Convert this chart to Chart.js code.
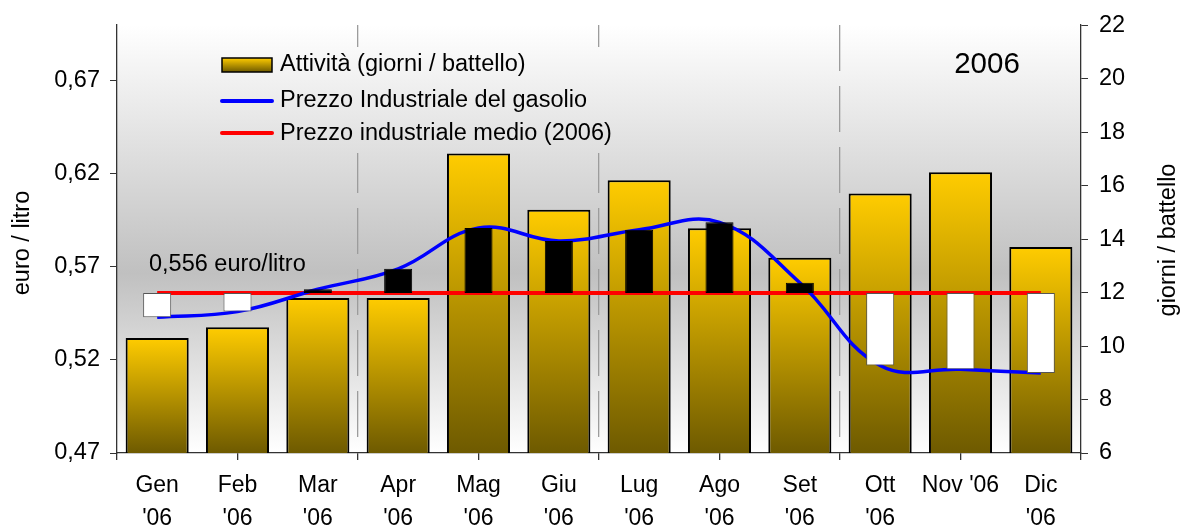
<!DOCTYPE html>
<html><head><meta charset="utf-8">
<script src="https://cdn.jsdelivr.net/npm/chart.js@4/dist/chart.umd.min.js"></script>
<style>html,body{margin:0;padding:0;background:#fff;}canvas{display:block;}</style>
</head><body>
<canvas id="c" width="1182" height="531"></canvas>
<script>
// ---- data ----
const months = [["Gen","'06"],["Feb","'06"],["Mar","'06"],["Apr","'06"],["Mag","'06"],["Giu","'06"],["Lug","'06"],["Ago","'06"],["Set","'06"],["Ott","'06"],["Nov '06"],["Dic","'06"]];
const attivita = [10.3, 10.7, 11.8, 11.8, 17.2, 15.1, 16.2, 14.4, 13.3, 15.7, 16.5, 13.7];
const prezzo = [0.543, 0.546, 0.558, 0.569, 0.591, 0.584, 0.590, 0.594, 0.5615, 0.517, 0.515, 0.513];
const prezzoMedio = 0.556;
const leftTicks = [0.47, 0.52, 0.57, 0.62, 0.67];
const rightTicks = [6, 8, 10, 12, 14, 16, 18, 20, 22];
const quarterMarks = [3, 6, 9];
const seriesLabels = ["Attività (giorni / battello)", "Prezzo Industriale del gasolio", "Prezzo industriale medio (2006)"];
const yearLabel = "2006";
const leftTitle = "euro / litro";
const rightTitle = "giorni / battello";

const FONT = "'Liberation Sans', Arial, sans-serif";
Chart.defaults.font.family = FONT;
Chart.defaults.font.size = 23.5;
Chart.defaults.color = '#000';

function bgGradient(ctx, a) {
  const g = ctx.createLinearGradient(0, a.top, 0, a.bottom);
  g.addColorStop(0, '#ffffff');
  g.addColorStop(0.58, '#c0c0c0');
  g.addColorStop(1, '#ffffff');
  return g;
}
function goldGradient(ctx, top, bottom) {
  const g = ctx.createLinearGradient(0, top, 0, bottom);
  g.addColorStop(0, '#FFCC00');
  g.addColorStop(1, '#6E5A00');
  return g;
}

const bgPlugin = {
  id: 'bg',
  beforeDraw(chart) {
    const {ctx, chartArea: a} = chart;
    ctx.save();
    ctx.fillStyle = bgGradient(ctx, a);
    ctx.fillRect(a.left, a.top, a.right - a.left, a.bottom - a.top);
    ctx.restore();
  }
};

const overlay = {
  id: 'overlay',
  afterDraw(chart) {
    const {ctx, chartArea: a, scales} = chart;
    ctx.save();
    // legend box (same fill as plot background, hides gridlines)
    ctx.fillStyle = bgGradient(ctx, a);
    ctx.fillRect(212, 47, 410, 106);
    ctx.fillStyle = goldGradient(ctx, 58, 72);
    ctx.fillRect(222, 58, 50, 14);
    ctx.lineWidth = 1.5; ctx.strokeStyle = '#000';
    ctx.strokeRect(222, 58, 50, 14);
    ctx.lineWidth = 4; ctx.lineCap = 'round';
    ctx.strokeStyle = '#0000FF';
    ctx.beginPath(); ctx.moveTo(222, 101); ctx.lineTo(272, 101); ctx.stroke();
    ctx.strokeStyle = '#FF0000';
    ctx.beginPath(); ctx.moveTo(222, 133); ctx.lineTo(272, 133); ctx.stroke();
    ctx.fillStyle = '#000';
    ctx.font = '23.5px ' + FONT;
    ctx.textAlign = 'left'; ctx.textBaseline = 'alphabetic';
    ctx.fillText(seriesLabels[0], 280, 71);
    ctx.fillText(seriesLabels[1], 280, 107);
    ctx.fillText(seriesLabels[2], 280, 140);
    ctx.font = '29.5px ' + FONT;
    ctx.textAlign = 'center';
    ctx.fillText(yearLabel, 987, 73);
    ctx.font = '23.5px ' + FONT;
    ctx.textAlign = 'left';
    const ym = scales.y.getPixelForValue(prezzoMedio);
    ctx.fillText(prezzoMedio.toFixed(3).replace('.', ',') + ' euro/litro', a.left + 32, ym - 22);
    ctx.textAlign = 'center';
    ctx.save(); ctx.translate(29, 243); ctx.rotate(-Math.PI / 2); ctx.fillText(leftTitle, 0, 0); ctx.restore();
    ctx.save(); ctx.translate(1175, 240); ctx.rotate(-Math.PI / 2); ctx.fillText(rightTitle, 0, 0); ctx.restore();
    ctx.restore();
  }
};

new Chart(document.getElementById('c'), {
  type: 'bar',
  data: {
    labels: months,
    datasets: [
      {
        type: 'bar', label: 'Scostamento', yAxisID: 'y', xAxisID: 'x', order: 0, grouped: false,
        data: prezzo.map(p => [prezzoMedio, p]),
        backgroundColor: prezzo.map(p => p >= prezzoMedio ? '#000000' : '#ffffff'),
        borderColor: prezzo.map(p => p >= prezzoMedio ? '#000000' : '#555555'),
        borderWidth: 1, borderSkipped: false,
        barPercentage: 0.349, categoryPercentage: 1
      },
      {
        type: 'line', label: seriesLabels[1], yAxisID: 'y', xAxisID: 'x', order: 1,
        data: prezzo, borderColor: '#0000FF', borderWidth: 3.5,
        pointRadius: 0, tension: 0.4, fill: false
      },
      {
        type: 'line', label: seriesLabels[2], yAxisID: 'y', xAxisID: 'x', order: 2,
        data: prezzo.map(() => prezzoMedio), borderColor: '#FF0000', borderWidth: 4,
        pointRadius: 0, fill: false
      },
      {
        type: 'bar', label: seriesLabels[0], yAxisID: 'y2', xAxisID: 'x', order: 3, grouped: false,
        data: attivita,
        backgroundColor: (c) => {
          const chart = c.chart;
          if (!chart.chartArea || c.type !== 'data') return '#FFCC00';
          const s = chart.scales.y2;
          return goldGradient(chart.ctx, s.getPixelForValue(c.parsed.y), s.getPixelForValue(s.min));
        },
        borderColor: '#000', borderWidth: 2, borderSkipped: false,
        barPercentage: 0.785, categoryPercentage: 1
      }
    ]
  },
  options: {
    responsive: false,
    animation: false,
    devicePixelRatio: 1,
    layout: { padding: { top: 23, left: 0, right: 0, bottom: 0 } },
    plugins: { legend: { display: false }, tooltip: { enabled: false } },
    scales: {
      x: {
        type: 'category', position: 'bottom', weight: 1, offset: true,
        grid: { display: false, drawTicks: false },
        border: { display: false },
        ticks: { autoSkip: false, maxRotation: 0, minRotation: 0, padding: 16, font: { size: 23, lineHeight: 1.43 } },
        afterFit(s) { s.height = 78; }
      },
      xt: {
        type: 'linear', position: 'bottom', weight: 0, min: 0, max: 12, offset: false,
        ticks: { display: false, stepSize: 1.5 },
        grid: {
          offset: false,
          drawOnChartArea: true, drawTicks: true, tickLength: 7, lineWidth: 1.3,
          color: (c) => (c.tick && quarterMarks.includes(c.tick.value)) ? '#9c9c9c' : 'rgba(0,0,0,0)',
          tickColor: '#333'
        },
        border: { display: true, color: '#333', width: 1.3, dash: [46, 15] },
        afterFit(s) { s.height = 0; }
      },
      y: {
        type: 'linear', position: 'left', min: 0.47, max: 0.70,
        afterBuildTicks(s) { s.ticks = leftTicks.map(v => ({ value: v })); },
        ticks: { padding: 10, callback: v => Number(v).toFixed(2).replace('.', ',') },
        grid: { drawOnChartArea: false, tickLength: 7, tickColor: '#333' },
        border: { color: '#333', width: 1.3 },
        afterFit(s) { s.width = 117; }
      },
      y2: {
        type: 'linear', position: 'right', min: 6, max: 22,
        afterBuildTicks(s) { s.ticks = rightTicks.map(v => ({ value: v })); },
        ticks: { padding: 11 },
        grid: { drawOnChartArea: false, tickLength: 7, tickColor: '#333' },
        border: { color: '#333', width: 1.3 },
        afterFit(s) { s.width = 101; }
      }
    }
  },
  plugins: [bgPlugin, overlay]
});
</script>
</body></html>
